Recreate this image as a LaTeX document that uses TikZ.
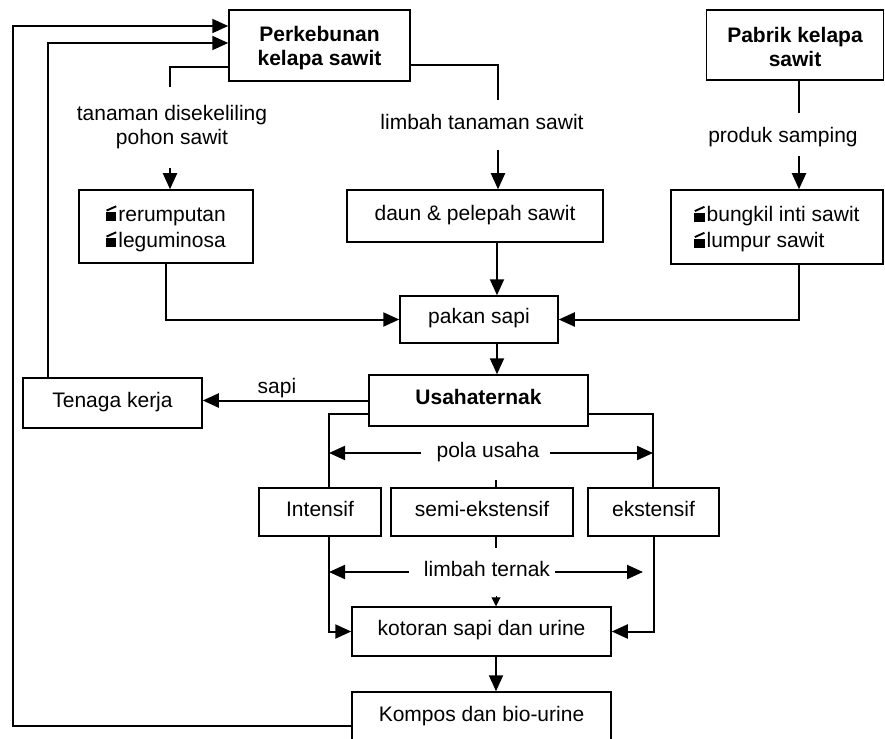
\documentclass[tikz,border=0pt]{standalone}
\usepackage{fontspec}
\setmainfont{Liberation Sans}
\usepackage{graphicx}
\usetikzlibrary{arrows.meta,calc}
\newcommand{\clapsym}{\makebox[0.58em][l]{\rule{0.48em}{0.43em}\hspace{-0.48em}\raisebox{0.47em}{\rotatebox[origin=lb]{24}{\rule{0.5em}{0.09em}}}}}
\newcommand{\upstrut}{\rule{0pt}{0.95em}}
\begin{document}
\begin{tikzpicture}[x=1pt,y=-1pt,
  box/.style={draw,line width=1.5pt,inner sep=0pt,align=center,font=\fontsize{21}{26}\selectfont},
  bbox/.style={box,font=\fontsize{21}{24}\selectfont\bfseries},
  sbox/.style={box,text height=0.92em,text depth=0.1em},
  lbl/.style={inner sep=0pt,font=\fontsize{21}{24}\selectfont,text height=0.92em,text depth=0.1em},
  lblm/.style={inner sep=0pt,align=center,font=\fontsize{21}{24}\selectfont},
  ln/.style={line width=2pt},
  arr/.style={line width=2pt,-{Triangle[length=16pt,width=14pt]}},
  arrs/.style={line width=1pt,-{Triangle[length=9pt,width=9pt]}}]
\path[use as bounding box,clip] (0,0) rectangle (885,738);

% boxes
\node[bbox,minimum width=181pt,minimum height=71pt] (perk) at (319.5,45.5) {\upstrut Perkebunan\\kelapa sawit};
\node[bbox,minimum width=177pt,minimum height=70pt] (pabrik) at (795,45) {\upstrut Pabrik kelapa\\sawit};
\node[box,minimum width=174pt,minimum height=73pt,align=left] (rerum) at (166,226.5) {\upstrut\clapsym rerumputan\\\clapsym leguminosa};
\node[sbox,minimum width=256pt,minimum height=52pt] (daun) at (475,216) {daun \& pelepah sawit};
\node[box,minimum width=212pt,minimum height=74pt,align=left] (bungkil) at (777,227) {\upstrut\clapsym bungkil inti sawit\\\clapsym lumpur sawit};
\node[sbox,minimum width=158pt,minimum height=47pt] (pakan) at (479,319.5) {pakan sapi};
\node[sbox,minimum width=219pt,minimum height=51pt,font=\fontsize{21}{24}\selectfont\bfseries] (usaha) at (478.5,400.5) {Usahaternak};
\node[sbox,minimum width=179pt,minimum height=50pt] (tenaga) at (112.5,403) {Tenaga kerja};
\node[sbox,minimum width=122pt,minimum height=48pt] (intensif) at (320,512) {Intensif};
\node[sbox,minimum width=182pt,minimum height=48pt] (semi) at (482,512) {semi-ekstensif};
\node[sbox,minimum width=131pt,minimum height=48pt] (eks) at (653.5,512) {ekstensif};
\node[sbox,minimum width=259pt,minimum height=49pt] (kotoran) at (481.5,631.5) {kotoran sapi dan urine};
\node[sbox,minimum width=259pt,minimum height=50pt] (kompos) at (481.5,717) {Kompos dan bio-urine};

% labels
\node[lblm] (l1) at (172,127) {tanaman disekeliling\\pohon sawit};
\node[lbl] (l2) at (482,125) {limbah tanaman sawit};
\node[lbl] (l3) at (783,138) {produk samping};
\node[lbl] (l4) at (277,389) {sapi};
\node[lbl] (l5) at (488,453) {pola usaha};
\node[lbl] (l6) at (487,572) {limbah ternak};

% coordinates
\coordinate (c1) at (170,87);
\coordinate (c1b) at (170,168);
\coordinate (c2) at (498,100);
\coordinate (c2b) at (498,150);
\coordinate (c3) at (799,113);
\coordinate (c3b) at (799,156);
\coordinate (c4) at (799,300);
\coordinate (cx) at (497,0);
\coordinate (f1) at (13,726);
\coordinate (f2) at (48,43);
\coordinate (pl) at (329,453);
\coordinate (pr) at (653,453);
\coordinate (s1) at (496,480);
\coordinate (s2) at (496,548);
\coordinate (s3) at (496,596);
\coordinate (ll) at (329,572);
\coordinate (lr) at (643,572);

% top branches
\draw[ln] (perk.west |- 0,67) -| (c1);
\draw[arr] (c1b) -- (c1b |- rerum.north);
\draw[ln] (perk.east |- 0,65) -| (c2);
\draw[arr] (c2b) -- (c2b |- daun.north);
\draw[ln] (c3 |- pabrik.south) -- (c3);
\draw[arr] (c3b) -- (c3b |- bungkil.north);

% to pakan
\draw[arr] (rerum.south) |- (pakan.west);
\draw[arr] (c4 |- bungkil.south) |- (pakan.east);
\draw[arr] (cx |- daun.south) -- (cx |- pakan.north);
\draw[arr] (cx |- pakan.south) -- (cx |- usaha.north);

% sapi to tenaga
\draw[arr] (usaha.west) -- (usaha.west -| tenaga.east);

% feedback loops
\draw[arr] (kompos.west |- f1) -- (f1) |- (perk.west |- 0,26);
\draw[arr] (f2 |- tenaga.north) -- (f2) -- (perk.west |- f2);

% pola usaha
\draw[ln] (usaha.west |- 0,414) -| (pl |- intensif.north);
\draw[ln] (usaha.east |- 0,414) -| (pr |- eks.north);
\draw[arr] ([xshift=-15pt]l5.west) -- (pl);
\draw[arr] ([xshift=10pt]l5.east) -- (pr);
\draw[ln] (s1) -- (s1 |- semi.north);
\draw[ln] (s2 |- semi.south) -- (s2);

% limbah ternak
\draw[arr] ([xshift=-15pt]l6.west) -- (ll);
\draw[arr] ([xshift=5pt]l6.east) -- (lr);
\draw[arr] (ll |- intensif.south) |- (kotoran.west);
\draw[arr] (eks.south) |- (kotoran.east);
\draw[arrs] (s3) -- (s3 |- kotoran.north);

% to kompos
\draw[arr] (s3 |- kotoran.south) -- (s3 |- kompos.north);
\end{tikzpicture}
\end{document}
